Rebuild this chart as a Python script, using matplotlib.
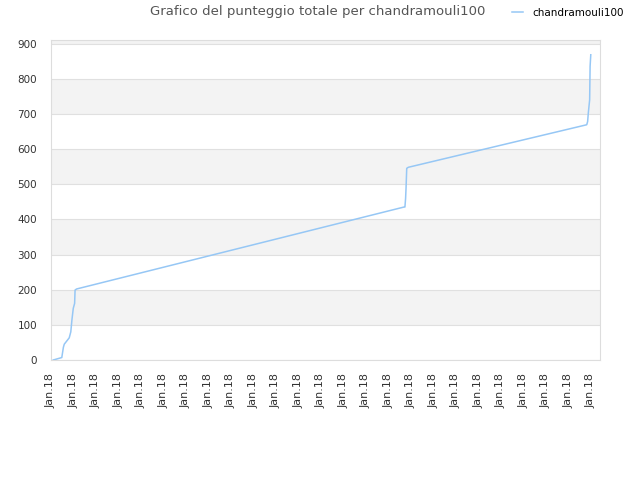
import numpy as np
import matplotlib
matplotlib.use("Agg")
import matplotlib.pyplot as plt

# cumulative score per game (x = game index)
games = [1.0, 4.8, 5.5, 5.9, 8.1, 8.8, 9.3, 9.9, 10.5, 10.7, 11.4,
         156.9, 157.3, 157.6, 157.8, 158.1, 158.8,
         238.1, 238.5, 238.8, 239.1, 239.4, 239.6, 239.9]
score = [0, 7, 36, 45, 63, 80, 114, 147, 161, 199, 202,
         435, 435, 460, 489, 545, 548,
         669, 678, 702, 721, 740, 835, 868]

tick_pos = list(range(0, 241, 10))
tick_labels = ["Jan.18"] * len(tick_pos)
y_ticks = list(range(0, 901, 100))

player = "chandramouli100"

fig = plt.figure(figsize=(6.4, 4.8), dpi=100)
ax = fig.add_axes([51 / 640, 120 / 480, 549 / 640, 320 / 480])

# alternating background bands
for lo in range(100, 1000, 200):
    ax.axhspan(lo, lo + 100, color="#f3f3f3", zorder=0, lw=0)
for y in y_ticks:
    ax.axhline(y, color="#e0e0e0", lw=0.8, zorder=1)

ax.plot(games, score, color="#96c7f5", lw=1.1, label=player, zorder=3)

ax.set_xlim(0, 244)
ax.set_ylim(0, 910)
ax.set_yticks(y_ticks)
ax.set_yticklabels([str(v) for v in y_ticks], fontsize=7.5, color="#333333")
ax.set_xticks(tick_pos)
ax.set_xticklabels(tick_labels, rotation=90, fontsize=8, color="#333333")
ax.tick_params(axis="both", length=0, pad=10)
ax.tick_params(axis="x", pad=9)
for s in ax.spines.values():
    s.set_color("#dddddd")
    s.set_linewidth(0.8)

fig.text(318 / 640, 1 - 12 / 480, "Grafico del punteggio totale per " + player,
         ha="center", va="center", fontsize=9.5, color="#555555")
fig.legend(loc="center left", bbox_to_anchor=(508 / 640, 1 - 13 / 480),
           frameon=False, fontsize=7.5, handlelength=1.0, handletextpad=0.9,
           borderaxespad=0)

fig.savefig("out.png", dpi=100)
